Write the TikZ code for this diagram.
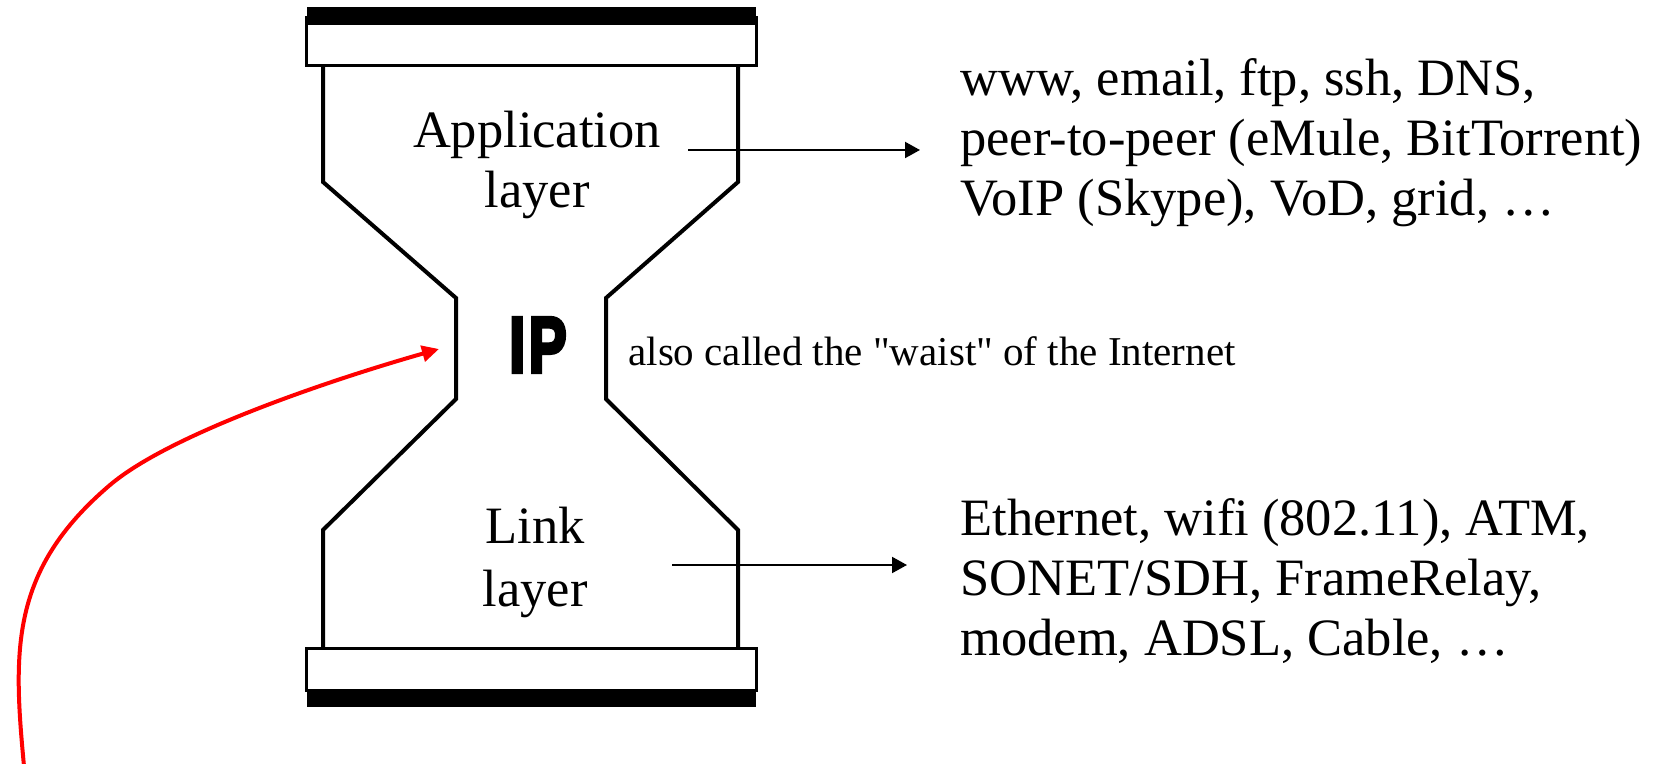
\documentclass[tikz,border=0pt]{standalone}
\usepackage{fontspec}
\setmainfont{Liberation Serif}
\newfontfamily\ipfont{Liberation Sans Bold}[FakeBold=5]
\usetikzlibrary{arrows.meta}
\begin{document}
\begin{tikzpicture}[x=0.5pt,y=-0.5pt,
  side/.style={line width=2pt},
  capbox/.style={draw,line width=1.5pt,fill=white},
  capbar/.style={fill=black},
  lbl/.style={inner sep=0pt,anchor=base,font=\fontsize{26.25}{30}\selectfont},
  rtxt/.style={inner sep=0pt,anchor=base west,font=\fontsize{26.25}{30}\selectfont},
  conn/.style={line width=1pt,-{Triangle[length=7.5pt,width=8pt]}},
  redarr/.style={draw=red,line width=2pt,-{Triangle[length=8.5pt,width=8pt]}}]
\useasboundingbox (0,0) rectangle (1660,764);
\fill[white] (0,0) rectangle (1660,764);
% hourglass sides
\draw[side] (323,66) -- (323,182) -- (456,298) -- (456,399) -- (323,530) -- (323,649);
\draw[side] (738,66) -- (738,182) -- (606,298) -- (606,399) -- (738,530) -- (738,649);
% caps
\draw[capbox] (306,18) rectangle (756,66);
\fill[capbar] (307,7) rectangle (756,25);
\draw[capbox] (306,648) rectangle (756,690);
\fill[capbar] (307,690) rectangle (756,707);
% labels inside
\node[lbl] (app1) at (537,148) {Application};
\node[lbl] (app2) at (537,208) {layer};
\node[lbl] (lnk1) at (535,544) {Link};
\node[lbl] (lnk2) at (535,606) {layer};
\node[inner sep=0pt] (ip) at (538,345) {\scalebox{0.72}[1]{\fontsize{39.5}{40}\ipfont I\kern2.5pt P}};
\node[inner sep=0pt,anchor=base west,font=\fontsize{20.5}{24}\selectfont] (waist) at (628,366) {also called the \textquotedbl waist\textquotedbl\ of the Internet};
% right texts
\node[rtxt] (t1) at (960,96) {www, email, ftp, ssh, DNS,};
\node[rtxt] (t2) at (960,156) {peer-to-peer (eMule, BitTorrent)};
\node[rtxt] (t3) at (960,216) {VoIP (Skype), VoD, grid, \dots};
\node[rtxt] (b1) at (960,535) {Ethernet, wifi (802.11), ATM,};
\node[rtxt] (b2) at (960,595) {SONET/SDH, FrameRelay,};
\node[rtxt] (b3) at (960,655) {modem, ADSL, Cable, \dots};
% arrows
\coordinate (aS) at (688,150);
\coordinate (bS) at (672,565);
\draw[conn,shorten >=20pt] (aS) -- (aS -| t2.west);
\draw[conn,shorten >=26.5pt] (bS) -- (bS -| b2.west);
% red arrow
\coordinate (rS) at (24,766);
\coordinate (rE) at (439,349);
\draw[redarr] (rS) .. controls (13,650) and (10,570) .. (110,485)
  .. controls (170,434) and (330,380) .. (rE);
\end{tikzpicture}
\end{document}
